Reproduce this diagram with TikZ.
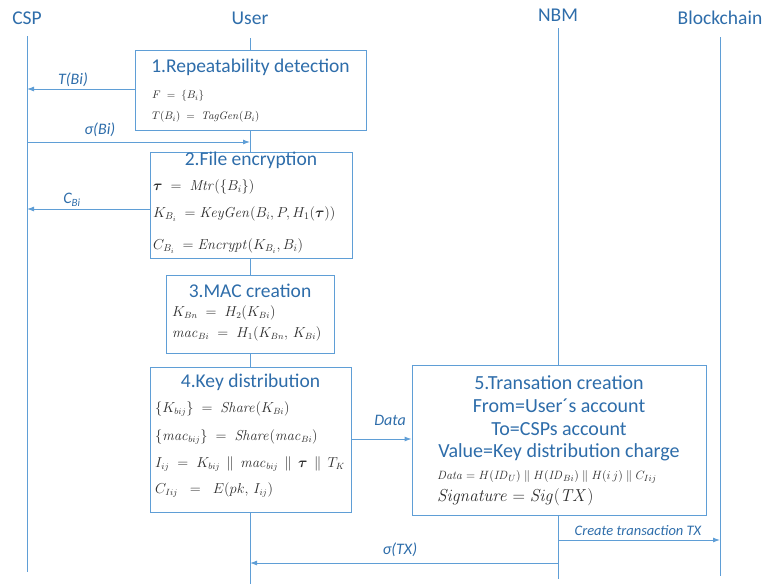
\documentclass[tikz,border=0pt]{standalone}
\usepackage[no-math]{fontspec}
\setmainfont{Carlito}
\usepackage{bm}
\usetikzlibrary{arrows.meta}
\definecolor{txtblue}{RGB}{46,109,170}
\definecolor{lineblue}{RGB}{95,158,214}
\definecolor{formula}{RGB}{45,45,45}
\begin{document}
\begin{tikzpicture}[x=1pt,y=-1pt,
  head/.style={text=txtblue,font=\fontsize{19.5}{23}\selectfont,inner sep=0pt},
  life/.style={draw=lineblue,line width=0.9pt},
  box/.style={draw=lineblue,line width=0.9pt,fill=white,inner sep=0pt},
  ttl/.style={text=txtblue,font=\fontsize{20}{24}\selectfont,inner sep=0pt},
  fml/.style={text=formula,anchor=west,inner sep=0pt},
  msg/.style={draw=lineblue,line width=0.9pt,-{Latex[length=7pt,width=5pt]}},
  lbl/.style={text=txtblue,font=\fontsize{16}{19}\selectfont\itshape,inner sep=0pt},
]
\useasboundingbox (0,0) rectangle (764,584);

% participants
\node[head] (csp)   at (27,18)  {CSP};
\node[head] (user)  at (250,18) {User};
\node[head] (nbm)   at (558,15) {NBM};
\node[head] (chain) at (720,18) {Blockchain};

% lifelines
\coordinate (cspTop) at (27,36);   \coordinate (cspBot) at (27,572);
\coordinate (usrTop) at (250,38);  \coordinate (usrBot) at (250,584);
\coordinate (nbmTop) at (558,28);  \coordinate (nbmBot) at (558,579);
\coordinate (bcTop)  at (720,37);  \coordinate (bcBot)  at (720,576);
\draw[life] (cspTop) -- (cspBot);
\draw[life] (usrTop) -- (usrBot);
\draw[life] (nbmTop) -- (nbmBot);
\draw[life] (bcTop)  -- (bcBot);

% step 1
\node[box,minimum width=231,minimum height=80] (b1) at (250.5,90) {};
\node[ttl,font=\fontsize{19.5}{23}\selectfont] (t1) at (250.5,67) {1.Repeatability detection};
\node[fml,font=\fontsize{11}{13}\selectfont] (f11) at (152,96) {$F\;=\;\{B_i\}$};
\node[fml,font=\fontsize{11}{13}\selectfont] (f12) at (152,117) {$T(B_i)\;=\;\mathit{TagGen}(B_i)$};

% step 2
\node[box,minimum width=202,minimum height=106] (b2) at (251,205) {};
\node[ttl,font=\fontsize{19.5}{23}\selectfont] (t2) at (251,160) {2.File encryption};
\node[fml,font=\fontsize{14.5}{17}\selectfont] (f21) at (153,187) {$\bm{\tau}\;=\;\mathit{Mtr}(\{B_i\})$};
\node[fml,font=\fontsize{14.5}{17}\selectfont] (f22) at (153,214) {$K_{B_i}\;=\mathit{KeyGen}(B_i,P,H_1(\bm{\tau}))$};
\node[fml,font=\fontsize{14.5}{17}\selectfont] (f23) at (153,246) {$C_{B_i}\;=\mathit{Encrypt}(K_{B_i},B_i)$};

% step 3
\node[box,minimum width=168,minimum height=78] (b3) at (250,314) {};
\node[ttl,font=\fontsize{19.5}{23}\selectfont] (t3) at (250,291) {3.MAC creation};
\node[fml,font=\fontsize{13.5}{15}\selectfont] (f31) at (172,313) {$K_{Bn}\;=\;H_2(K_{Bi})$};
\node[fml,font=\fontsize{13.5}{15}\selectfont] (f32) at (172,334) {$\mathit{mac}_{Bi}\;=\;H_1(K_{Bn},\,K_{Bi})$};

% step 4
\node[box,minimum width=201,minimum height=145] (b4) at (250.5,439.5) {};
\node[ttl,font=\fontsize{19.5}{23}\selectfont] (t4) at (250.5,382) {4.Key distribution};
\node[fml,font=\fontsize{13.5}{15}\selectfont] (f41) at (155,409) {$\{K_{bij}\}\;=\;\mathit{Share}(K_{Bi})$};
\node[fml,font=\fontsize{13.5}{15}\selectfont] (f42) at (155,437) {$\{\mathit{mac}_{bij}\}\;=\;\mathit{Share}(\mathit{mac}_{Bi})$};
\node[fml,font=\fontsize{13.5}{15}\selectfont] (f43) at (155,464) {$I_{ij}\;=\;K_{bij}\;\,\|\,\;\mathit{mac}_{bij}\;\,\|\,\;\bm{\tau}\;\,\|\,\;T_K$};
\node[fml,font=\fontsize{13.5}{15}\selectfont] (f44) at (155,490) {$C_{Iij}\;\;=\;\;E(pk,\,I_{ij})$};

% step 5
\node[box,minimum width=294,minimum height=150] (b5) at (559,440) {};
\node[ttl] (t5a) at (559,383) {5.Transation creation};
\node[ttl] (t5b) at (559,406) {From=User´s account};
\node[ttl] (t5c) at (559,429) {To=CSPs account};
\node[ttl] (t5d) at (559,452) {Value=Key distribution charge};
\node[fml,font=\fontsize{12.5}{14}\selectfont] (f51) at (437,477) {$\mathit{Data}=H(\mathit{ID}_U)\;\|\;H(\mathit{ID}_{Bi})\;\|\;H(i\,j)\;\|\;C_{Iij}$};
\node[fml,font=\fontsize{16}{18}\selectfont] (f52) at (437,497) {$\mathit{Signature}=\mathit{Sig}(\mathit{TX})$};

% messages
\coordinate (cspA) at (27,89);
\draw[msg] (b1.west |- cspA) -- (cspA);
\node[lbl] (lA) at (73,80) {T(Bi)};

\coordinate (cspB) at (27,142);
\coordinate (usrB) at (250,142);
\draw[msg] (cspB) -- (usrB);
\node[lbl] (lB) at (100,130) {σ(Bi)};

\coordinate (cspC) at (27,209);
\draw[msg] (b2.west |- cspC) -- (cspC);
\node[lbl] (lC) at (72,200) {C\textsubscript{\fontsize{11}{12}\selectfont Bi}};

\draw[msg] (b4.east |- 0,439) -- (b5.west |- 0,439);
\node[lbl] (lD) at (390,420) {Data};

\coordinate (nbmE) at (558,540);
\coordinate (bcE) at (720,540);
\draw[msg] (nbmE) -- (bcE);
\node[lbl,font=\fontsize{14.5}{17}\selectfont\itshape] (lE) at (638,531) {Create transaction TX};

\coordinate (nbmF) at (558,563);
\coordinate (usrF) at (250,563);
\draw[msg] (nbmF) -- (usrF);
\node[lbl] (lF) at (400,550) {σ(TX)};
\end{tikzpicture}
\end{document}
